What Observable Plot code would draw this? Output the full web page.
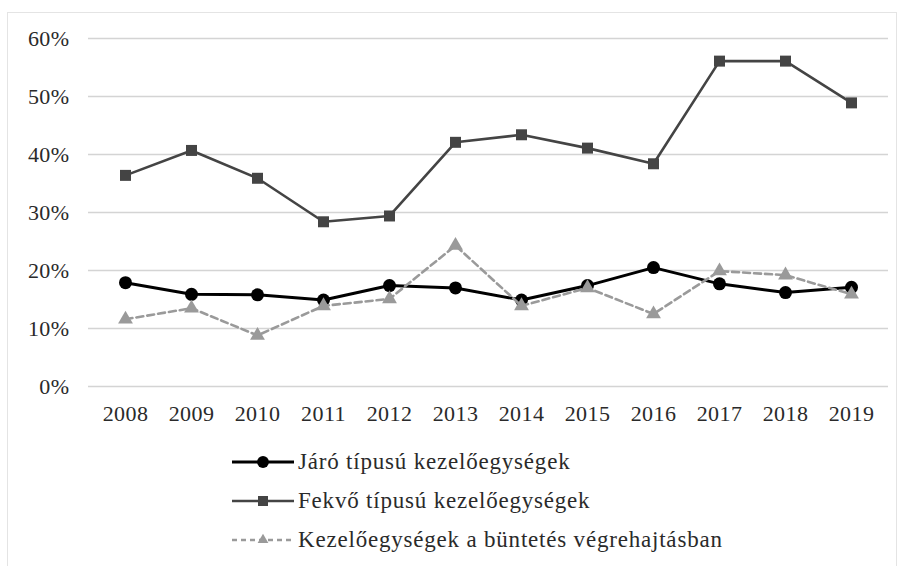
<!DOCTYPE html>
<html>
<head>
<meta charset="utf-8">
<script src="https://cdn.jsdelivr.net/npm/d3@7"></script>
<script src="https://cdn.jsdelivr.net/npm/@observablehq/plot@0.6"></script>
<style>
  html, body { margin: 0; padding: 0; background: #fff; }
  body { width: 906px; height: 566px; position: relative; overflow: hidden; font-family: "Liberation Serif", "DejaVu Serif", serif; }
  #frame { position: absolute; left: 7px; top: 12px; width: 890px; height: 600px; border: 1px solid #e4e4e4; box-sizing: border-box; }
  #chart { position: absolute; left: 0; top: 0; }
  #chart text { letter-spacing: 0.4px; }
  #legend { position: absolute; left: 232px; top: 442px; }
  .row { position: absolute; left: 0; height: 40px; display: flex; align-items: center; white-space: nowrap; font-size: 23px; letter-spacing: 0.8px; color: #2a2a2a; }
  .row svg { margin-right: 4px; }
</style>
</head>
<body>
<div id="frame"></div>
<div id="chart"></div>
<div id="legend"></div>
<script>
const years = ["2008","2009","2010","2011","2012","2013","2014","2015","2016","2017","2018","2019"];
const jaro = [17.9, 15.9, 15.8, 14.9, 17.4, 17.0, 14.9, 17.4, 20.5, 17.7, 16.2, 17.1];
const fekvo = [36.4, 40.7, 35.9, 28.4, 29.4, 42.1, 43.4, 41.1, 38.4, 56.1, 56.1, 48.9];
const buntetes = [11.6, 13.5, 8.8, 13.9, 15.1, 24.3, 13.9, 17.0, 12.5, 19.9, 19.2, 15.9];
const yTicks = [0, 10, 20, 30, 40, 50, 60];
const seriesNames = ["Járó típusú kezelőegységek", "Fekvő típusú kezelőegységek", "Kezelőegységek a büntetés végrehajtásban"];

const jaroData = years.map((y, i) => ({year: y, value: jaro[i]}));
const fekvoData = years.map((y, i) => ({year: y, value: fekvo[i]}));
const buntData = years.map((y, i) => ({year: y, value: buntetes[i]}));

const plot = Plot.plot({
  width: 906,
  height: 440,
  marginLeft: 88,
  marginRight: 18,
  marginTop: 38,
  marginBottom: 54,
  style: { fontFamily: "'Liberation Serif', serif", fontSize: "22px", color: "#2a2a2a", background: "transparent" },
  x: { type: "point", domain: years, padding: 0.5, label: null, tickSize: 0, tickPadding: 19 },
  y: { domain: [0, 60], ticks: yTicks, tickFormat: d => d + "%", label: null, tickSize: 0, tickPadding: 19 },
  marks: [
    Plot.gridY(yTicks, { stroke: "#d4d4d4", strokeOpacity: 1, strokeWidth: 1.6 }),
    Plot.axisX({ tickSize: 0, tickPadding: 19, fontSize: 22 }),
    Plot.axisY(yTicks, { tickSize: 0, tickPadding: 19, tickFormat: d => d + "%", fontSize: 22 }),
    Plot.line(jaroData, { x: "year", y: "value", stroke: "#000", strokeWidth: 3 }),
    Plot.dot(jaroData, { x: "year", y: "value", r: 6.5, fill: "#000", symbol: "circle" }),
    Plot.line(fekvoData, { x: "year", y: "value", stroke: "#444", strokeWidth: 2.6 }),
    Plot.dot(fekvoData, { x: "year", y: "value", r: 6.2, fill: "#444", symbol: "square" }),
    Plot.line(buntData, { x: "year", y: "value", stroke: "#9a9a9a", strokeWidth: 2.6, strokeDasharray: "7,4" }),
    Plot.dot(buntData, { x: "year", y: "value", r: 5.5, fill: "#9a9a9a", symbol: "triangle" })
  ]
});
document.getElementById("chart").appendChild(plot);

// legend
const legendSpecs = [
  { stroke: "#000", width: 3, dash: null, marker: "circle", fill: "#000" },
  { stroke: "#444", width: 2.6, dash: null, marker: "square", fill: "#444" },
  { stroke: "#9a9a9a", width: 2.6, dash: "5,4", marker: "triangle", fill: "#9a9a9a" }
];
const leg = document.getElementById("legend");
seriesNames.forEach((name, i) => {
  const s = legendSpecs[i];
  const row = document.createElement("div");
  row.className = "row";
  row.style.top = (i * 39) + "px";
  const svg = d3.create("svg").attr("width", 62).attr("height", 20);
  svg.append("line").attr("x1", 0).attr("x2", 62).attr("y1", 10).attr("y2", 10)
    .attr("stroke", s.stroke).attr("stroke-width", s.width).attr("stroke-dasharray", s.dash);
  const sym = s.marker === "circle" ? d3.symbolCircle : s.marker === "square" ? d3.symbolSquare : d3.symbolTriangle;
  const size = s.marker === "circle" ? 110 : s.marker === "square" ? 100 : 50;
  svg.append("path").attr("transform", "translate(31,10)").attr("d", d3.symbol(sym, size)()).attr("fill", s.fill);
  row.appendChild(svg.node());
  const span = document.createElement("span");
  span.textContent = name;
  row.appendChild(span);
  leg.appendChild(row);
});
</script>
</body>
</html>
